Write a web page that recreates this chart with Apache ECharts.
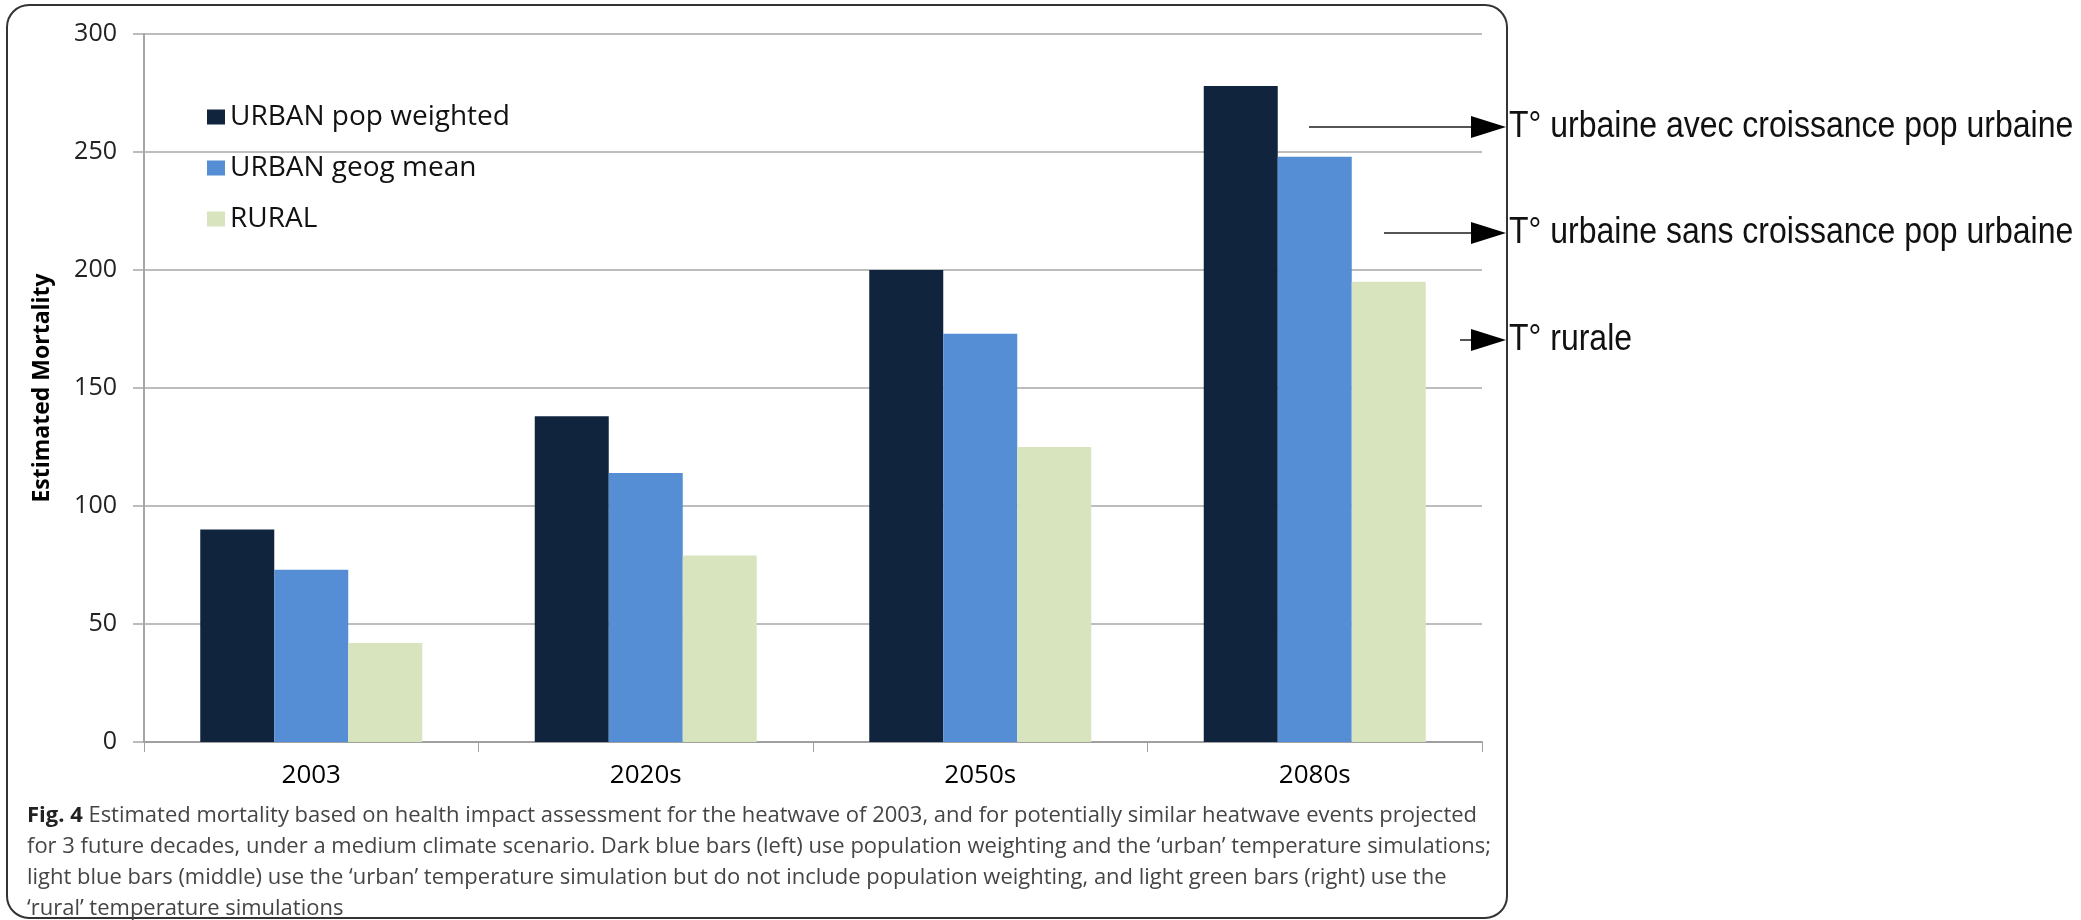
<!DOCTYPE html>
<html>
<head>
<meta charset="utf-8">
<script src="https://cdn.jsdelivr.net/npm/echarts@6/dist/echarts.min.js"></script>
<style>
html,body{margin:0;padding:0;background:#fff;}
#chart{width:2081px;height:920px;}
</style>
</head>
<body>
<div id="chart"></div>
<script>
// ---- data ----
const categories = ['2003', '2020s', '2050s', '2080s'];
const seriesNames = ['URBAN pop weighted', 'URBAN geog mean', 'RURAL'];
const urbanPopWeighted = [90, 138, 200, 278];
const urbanGeogMean = [73, 114, 173, 248];
const rural = [42, 79, 125, 195];
const yAxisTitle = 'Estimated Mortality';
const annotationTexts = [
  'T° urbaine avec croissance pop urbaine',
  'T° urbaine sans croissance pop urbaine',
  'T° rurale'
];
const captionBold = 'Fig. 4';
const captionLines = [
  ' Estimated mortality based on health impact assessment for the heatwave of 2003, and for potentially similar heatwave events projected',
  'for 3 future decades, under a medium climate scenario. Dark blue bars (left) use population weighting and the \u2018urban\u2019 temperature simulations;',
  'light blue bars (middle) use the \u2018urban\u2019 temperature simulation but do not include population weighting, and light green bars (right) use the',
  '\u2018rural\u2019 temperature simulations'
];

// ---- caption horizontal fit ----
const capSize = 22;
const mctx = document.createElement('canvas').getContext('2d');
mctx.font = 'bold ' + capSize + 'px "Open Sans"';
let w1 = mctx.measureText(captionBold).width;
mctx.font = capSize + 'px "Open Sans"';
w1 += mctx.measureText(captionLines[0]).width;
const capScale = 1450 / w1;

const captionText = '{b|' + captionBold + '}' + captionLines.join('\n');

const colors = ['#10243e', '#558ed5', '#d7e4bd'];
const chart = echarts.init(document.getElementById('chart'));

const arrowRows = [
  { y: 127, x0: 1309 },
  { y: 233, x0: 1384 },
  { y: 340, x0: 1460 }
];
const graphics = [
  {
    type: 'rect', z: 100,
    shape: { x: 7, y: 5, width: 1500, height: 913, r: 22 },
    style: { fill: 'none', stroke: '#333', lineWidth: 2 }
  },
  {
    type: 'text', z: 100, x: 27, y: 800, scaleX: capScale,
    style: {
      text: captionText,
      font: capSize + 'px "Open Sans"',
      fill: '#454545',
      lineHeight: 31,
      verticalAlign: 'top',
      rich: { b: { fontWeight: 'bold', fill: '#222', fontSize: capSize, fontFamily: 'Open Sans', lineHeight: 31 } }
    }
  }
];
annotationTexts.forEach((t, i) => {
  const r = arrowRows[i];
  graphics.push({
    type: 'line', z: 100,
    shape: { x1: r.x0, y1: r.y, x2: 1474, y2: r.y },
    style: { stroke: '#555', lineWidth: 2 }
  });
  graphics.push({
    type: 'polygon', z: 100,
    shape: { points: [[1471, r.y - 11], [1506, r.y], [1471, r.y + 11]] },
    style: { fill: '#000' }
  });
  graphics.push({
    type: 'text', z: 100, x: 1509, y: r.y, scaleY: 1.13,
    style: {
      text: t, font: '32px "Liberation Sans"', fill: '#111',
      verticalAlign: 'middle', align: 'left'
    }
  });
});

const mkSeries = (name, data, color) => ({
  name, type: 'bar', data,
  barWidth: 74, barGap: '0%',
  itemStyle: { color },
  emphasis: { disabled: true }
});

chart.setOption({
  animation: false,
  textStyle: { fontFamily: 'Open Sans' },
  grid: { left: 144, right: 599, top: 34, bottom: 178, containLabel: false },
  legend: {
    orient: 'vertical', left: 202, top: 98,
    itemWidth: 18, itemHeight: 15, itemGap: 23,
    icon: 'rect',
    data: seriesNames,
    textStyle: { fontSize: 28, lineHeight: 28, color: '#111', fontFamily: 'Open Sans' }
  },
  xAxis: {
    type: 'category', data: categories,
    axisLine: { lineStyle: { color: '#a0a0a0', width: 2 } },
    axisTick: { show: true, length: 10, lineStyle: { color: '#a0a0a0', width: 1 } },
    axisLabel: { fontSize: 26, color: '#000', margin: 21, fontFamily: 'Open Sans' }
  },
  yAxis: {
    type: 'value', min: 0, max: 300, interval: 50,
    name: yAxisTitle, nameLocation: 'middle', nameGap: 90,
    nameTextStyle: { fontSize: 23, fontWeight: 'bold', color: '#000', fontFamily: 'Open Sans' },
    axisLine: { show: true, lineStyle: { color: '#a6a6a6', width: 2 } },
    axisTick: { show: true, length: 11, lineStyle: { color: '#a6a6a6', width: 1.5 } },
    axisLabel: { fontSize: 25, color: '#222', margin: 27, fontFamily: 'Open Sans' },
    splitLine: { lineStyle: { color: '#bdbdbd', width: 2 } }
  },
  series: [
    mkSeries(seriesNames[0], urbanPopWeighted, colors[0]),
    mkSeries(seriesNames[1], urbanGeogMean, colors[1]),
    mkSeries(seriesNames[2], rural, colors[2])
  ],
  graphic: graphics
});
</script>
</body>
</html>
